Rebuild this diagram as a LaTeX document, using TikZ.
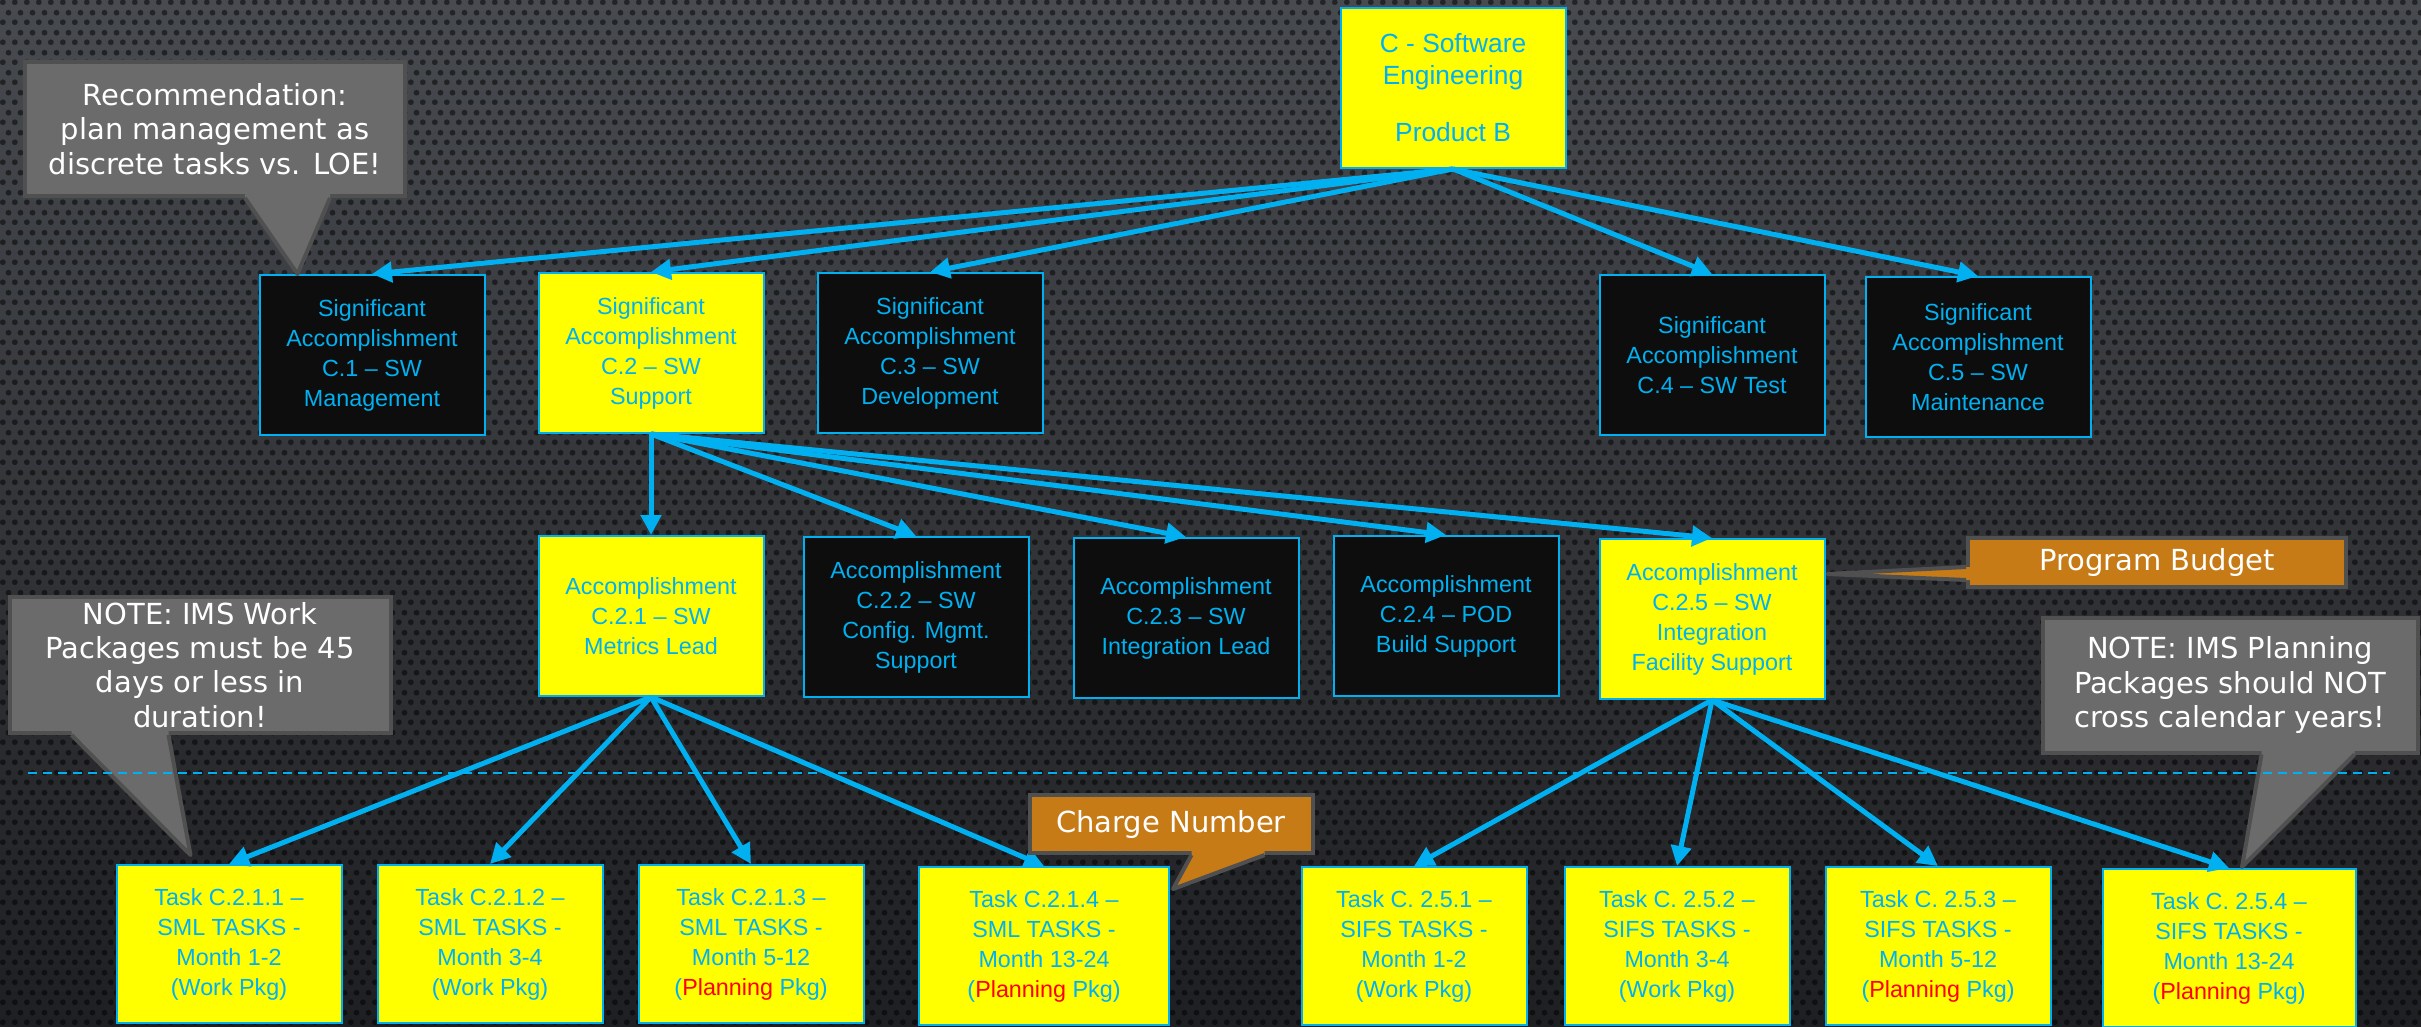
\documentclass[tikz,border=0pt]{standalone}
\usepackage{fontspec}
\setmainfont{Liberation Sans}
\newfontfamily\notefont{DejaVu Sans}
\usetikzlibrary{arrows.meta,calc,patterns.meta}

\definecolor{wbsblue}{HTML}{00B0F0}
\definecolor{wbsyellow}{HTML}{FFFF00}
\definecolor{wbsblack}{HTML}{0D0D0D}
\definecolor{notegray}{HTML}{6B6B6B}
\definecolor{noteedge}{HTML}{505050}
\definecolor{noteorange}{HTML}{C67B17}
\definecolor{bgtop}{HTML}{474A4F}
\definecolor{bgbot}{HTML}{1E1F22}

% perforated backdrop
\tikzdeclarepattern{
  name=bgdots,
  type=uncolored,
  bounding box={(0pt,0pt) and (3.5pt,6pt)},
  tile size={(3.5pt,6pt)},
  code={
    \fill (0.875pt,1.5pt) circle (0.9pt);
    \fill (2.625pt,4.5pt) circle (0.9pt);
  }
}

\begin{document}
\begin{tikzpicture}[x=0.3pt,y=-0.3pt,
  box/.style={draw=wbsblue,line width=0.6pt,fill=wbsblack,text=wbsblue,align=center,
    minimum width=225*0.3pt,minimum height=160*0.3pt,inner sep=0pt,
    font=\fontsize{7pt}{9pt}\selectfont},
  hot/.style={box,fill=wbsyellow},
  link/.style={draw=wbsblue,line width=1.5pt,-{Triangle[length=6pt,width=6pt]}},
  note/.style={draw=noteedge,line width=1.2pt,fill=notegray,text=white,align=center,
    inner sep=0pt,font=\notefont\fontsize{8.7pt}{10.3pt}\selectfont},
  tag/.style={note,fill=noteorange},
  pointer/.style={draw=noteedge,line width=1.2pt,line join=round}
]
  \useasboundingbox (0,0) rectangle (2421,1027);

  % Background
  \shade[top color=bgtop,bottom color=bgbot] (0,0) rectangle (2421,1027);
  \fill[pattern=bgdots,pattern color=black,fill opacity=0.5] (0,0) rectangle (2421,1027);

  % Product
  \node[hot,font=\fontsize{7.9pt}{9.6pt}\selectfont] (prod) at (1453,88)
    {C - Software\\Engineering\\[7.5pt]Product B};

  % Significant accomplishments
  \node[box] (sa1) at (372,355) {Significant\\Accomplishment\\C.1 – SW\\Management};
  \node[hot] (sa2) at (651,353) {Significant\\Accomplishment\\C.2 – SW\\Support};
  \node[box] (sa3) at (930,353) {Significant\\Accomplishment\\C.3 – SW\\Development};
  \node[box] (sa4) at (1712,355) {Significant\\Accomplishment\\C.4 – SW Test};
  \node[box] (sa5) at (1978,357) {Significant\\Accomplishment\\C.5 – SW\\Maintenance};

  % Accomplishments under C.2
  \node[hot] (ac1) at (651,616) {Accomplishment\\C.2.1 – SW\\Metrics Lead};
  \node[box] (ac2) at (916,617) {Accomplishment\\C.2.2 – SW\\Config. Mgmt.\\Support};
  \node[box] (ac3) at (1186,618) {Accomplishment\\C.2.3 – SW\\Integration Lead};
  \node[box] (ac4) at (1446,616) {Accomplishment\\C.2.4 – POD\\Build Support};
  \node[hot] (ac5) at (1712,619) {Accomplishment\\C.2.5 – SW\\Integration\\Facility Support};

  % Tasks
  \node[hot,minimum height=158*0.3pt] (tk1) at (229,944) {Task C.2.1.1 –\\SML TASKS -\\Month 1-2\\(Work Pkg)};
  \node[hot,minimum height=158*0.3pt] (tk2) at (490,944) {Task C.2.1.2 –\\SML TASKS -\\Month 3-4\\(Work Pkg)};
  \node[hot,minimum height=158*0.3pt] (tk3) at (751,944) {Task C.2.1.3 –\\SML TASKS -\\Month 5-12\\(\textcolor{red}{Planning} Pkg)};
  \node[hot,minimum height=158*0.3pt,minimum width=250*0.3pt] (tk4) at (1044,946) {Task C.2.1.4 –\\SML TASKS -\\Month 13-24\\(\textcolor{red}{Planning} Pkg)};
  \node[hot,minimum height=158*0.3pt] (tk5) at (1414,946) {Task C. 2.5.1 –\\SIFS TASKS -\\Month 1-2\\(Work Pkg)};
  \node[hot,minimum height=158*0.3pt] (tk6) at (1677,946) {Task C. 2.5.2 –\\SIFS TASKS -\\Month 3-4\\(Work Pkg)};
  \node[hot,minimum height=158*0.3pt] (tk7) at (1938,946) {Task C. 2.5.3 –\\SIFS TASKS -\\Month 5-12\\(\textcolor{red}{Planning} Pkg)};
  \node[hot,minimum height=158*0.3pt,minimum width=253*0.3pt] (tk8) at (2229,948) {Task C. 2.5.4 –\\SIFS TASKS -\\Month 13-24\\(\textcolor{red}{Planning} Pkg)};

  % Links
  \foreach \n in {sa1,sa2,sa3,sa4,sa5}
    \draw[link] (prod.south) -- (\n.north);
  \foreach \n in {ac1,ac2,ac3,ac4,ac5}
    \draw[link] (sa2.south) -- (\n.north);
  \foreach \n in {tk1,tk2,tk3,tk4}
    \draw[link] (ac1.south) -- (\n.north);
  \foreach \n in {tk5,tk6,tk7,tk8}
    \draw[link] (ac5.south) -- (\n.north);

  % Callouts
  \node[note,minimum width=380*0.3pt,minimum height=134*0.3pt] (rec) at (215,129)
    {Recommendation:\\plan management as\\discrete tasks vs. LOE!};
  \coordinate (rectip) at ($(sa1.north west)+(39,0)$);
  \fill[notegray] ($(rec.south west)+(222,-6)$) -- ($(rec.south west)+(222,0)$) -- (rectip)
    -- ($(rec.south west)+(307,0)$) -- ($(rec.south west)+(307,-6)$) -- cycle;
  \draw[pointer] ($(rec.south west)+(222,0)$) -- (rectip) -- ($(rec.south west)+(307,0)$);

  \node[note,minimum width=381*0.3pt,minimum height=136*0.3pt] (worknote) at (200,665)
    {NOTE: IMS Work\\Packages must be 45\\days or less in\\duration!};
  \coordinate (worktip) at ($(tk1.north west)+(75,-9)$);
  \fill[notegray] ($(worknote.south west)+(64,-6)$) -- ($(worknote.south west)+(64,0)$) -- (worktip)
    -- ($(worknote.south west)+(161,0)$) -- ($(worknote.south west)+(161,-6)$) -- cycle;
  \draw[pointer] ($(worknote.south west)+(64,0)$) -- (worktip) -- ($(worknote.south west)+(161,0)$);

  \node[tag,minimum width=283*0.3pt,minimum height=58*0.3pt] (charge) at (1171,824) {Charge Number};
  \coordinate (chargetip) at ($(tk4.north east)+(3,23)$);
  \fill[noteorange] ($(charge.south west)+(164,-6)$) -- ($(charge.south west)+(164,0)$) -- (chargetip)
    -- ($(charge.south west)+(237,0)$) -- ($(charge.south west)+(237,-6)$) -- cycle;
  \draw[pointer] ($(charge.south west)+(164,0)$) -- (chargetip) -- ($(charge.south west)+(237,0)$);

  \node[tag,minimum width=378*0.3pt,minimum height=49*0.3pt] (budget) at (2157,562) {Program Budget};
  \coordinate (budgettip) at ($(ac5.east)+(2,-45)$);
  \fill[noteorange] ($(budget.west)+(6,5)$) -- ($(budget.west)+(0,5)$) -- (budgettip)
    -- ($(budget.west)+(0,18)$) -- ($(budget.west)+(6,18)$) -- cycle;
  \draw[pointer] ($(budget.west)+(0,5)$) -- (budgettip) -- ($(budget.west)+(0,18)$);

  \node[note,minimum width=375*0.3pt,minimum height=135*0.3pt] (plannote) at (2230,685)
    {NOTE: IMS Planning\\Packages should NOT\\cross calendar years!};
  \coordinate (plantip) at ($(tk8.north)+(13,-1)$);
  \fill[notegray] ($(plannote.south west)+(221,-6)$) -- ($(plannote.south west)+(221,0)$) -- (plantip)
    -- ($(plannote.south west)+(314,0)$) -- ($(plannote.south west)+(314,-6)$) -- cycle;
  \draw[pointer] ($(plannote.south west)+(221,0)$) -- (plantip) -- ($(plannote.south west)+(314,0)$);

  % Work package / planning package divide
  \draw[wbsblue,line width=0.6pt,dash pattern=on 2.7pt off 1.8pt] (28,773) -- (2390,773);
\end{tikzpicture}
\end{document}
